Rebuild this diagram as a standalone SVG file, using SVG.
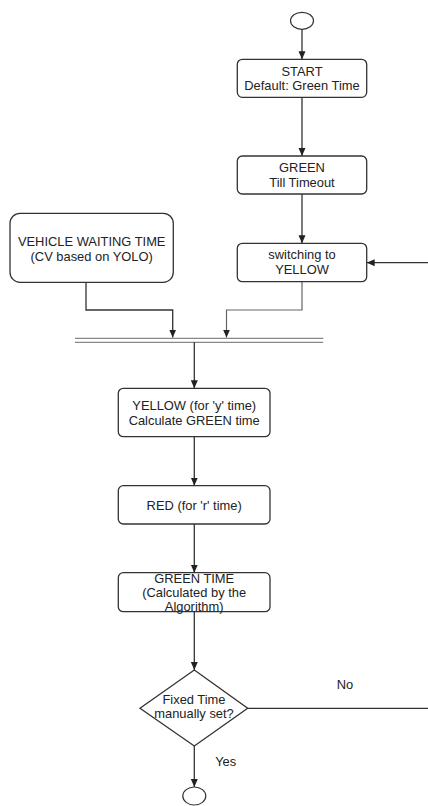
<svg xmlns="http://www.w3.org/2000/svg" width="428" height="806" viewBox="0 0 428 806">
<style>
.box{fill:#fff;stroke:#333;stroke-width:1.3}
.t{font-family:"Liberation Sans",Arial,sans-serif;font-size:12.9px;fill:#222;text-anchor:middle}
.c{fill:none;stroke:#333;stroke-width:1.3}
.cg{fill:none;stroke:#666;stroke-width:1.2}
.bar{fill:none;stroke:#888;stroke-width:1.2}
</style>
<defs>
<marker id="ah" viewBox="0 0 8 8" refX="8" refY="4" markerWidth="8" markerHeight="8" markerUnits="userSpaceOnUse" orient="auto">
<path d="M0,0.5 L8,4 L0,7.5 z" fill="#222"/>
</marker>
</defs>
<rect width="428" height="806" fill="#fff"/>
<g id="connectors">
<line class="c" x1="302" y1="29.3" x2="302" y2="59.3" marker-end="url(#ah)"/>
<line class="c" x1="302" y1="97.3" x2="302" y2="156" marker-end="url(#ah)"/>
<line class="c" x1="302" y1="194" x2="302" y2="243.3" marker-end="url(#ah)"/>
<line class="c" x1="428" y1="262.7" x2="366.7" y2="262.7" marker-end="url(#ah)"/>
<polyline class="c" points="86,282.3 86,310 172.7,310 172.7,337.6" marker-end="url(#ah)"/>
<polyline class="cg" points="302,281.7 302,310 226.5,310 226.5,337.6" marker-end="url(#ah)"/>
<line class="bar" x1="75" y1="338.4" x2="323.3" y2="338.4"/>
<line class="bar" x1="75" y1="342.3" x2="323.3" y2="342.3"/>
<line class="c" x1="194.3" y1="342.3" x2="194.3" y2="388.3" marker-end="url(#ah)"/>
<line class="c" x1="194.3" y1="436.7" x2="194.3" y2="485.7" marker-end="url(#ah)"/>
<line class="c" x1="194.3" y1="524" x2="194.3" y2="572.7" marker-end="url(#ah)"/>
<line class="c" x1="194.3" y1="611.7" x2="194.3" y2="670" marker-end="url(#ah)"/>
<line class="c" x1="247.7" y1="708.3" x2="428" y2="708.3"/>
<line class="c" x1="194.3" y1="746" x2="194.3" y2="787" marker-end="url(#ah)"/>
<text class="t" x="345" y="688.5">No</text>
<text class="t" x="225.7" y="766">Yes</text>
</g>
<g id="start-circle">
<ellipse cx="302" cy="20.8" rx="11.5" ry="8.5" fill="#fff" stroke="#333" stroke-width="1.2"/>
</g>
<g id="start">
<rect class="box" x="237.3" y="59.3" width="129.4" height="38" rx="5"/>
<text class="t" x="302" y="75.5">START</text>
<text class="t" x="302" y="89.5">Default: Green Time</text>
</g>
<g id="green">
<rect class="box" x="237.3" y="156" width="129.4" height="38" rx="5"/>
<text class="t" x="302" y="172">GREEN</text>
<text class="t" x="302" y="186.7">Till Timeout</text>
</g>
<g id="vehicle">
<rect class="box" x="10" y="213.3" width="163.3" height="69" rx="10"/>
<text class="t" x="91.7" y="246">VEHICLE WAITING TIME</text>
<text class="t" x="91.7" y="260.5">(CV based on YOLO)</text>
</g>
<g id="switching">
<rect class="box" x="237.3" y="243.3" width="129.4" height="38.4" rx="5"/>
<text class="t" x="302" y="259.3">switching to</text>
<text class="t" x="302" y="274.3">YELLOW</text>
</g>
<g id="yellow">
<rect class="box" x="118.3" y="388.3" width="151.7" height="48.4" rx="5"/>
<text class="t" x="194.2" y="409.5">YELLOW (for 'y' time)</text>
<text class="t" x="194.2" y="424.5">Calculate GREEN time</text>
</g>
<g id="red">
<rect class="box" x="118.3" y="485.7" width="151.7" height="38.3" rx="5"/>
<text class="t" x="194.2" y="510">RED (for 'r' time)</text>
</g>
<g id="greentime">
<rect class="box" x="118.3" y="572.7" width="151.7" height="39" rx="5"/>
<text class="t" x="194.2" y="582.7">GREEN TIME</text>
<text class="t" x="194.2" y="596.7">(Calculated by the</text>
<text class="t" x="194.2" y="610.5">Algorithm)</text>
</g>
<g id="decision">
<polygon class="box" points="194.3,670 247.7,708.3 194.3,746 140,708.3"/>
<text class="t" x="194" y="703.5">Fixed Time</text>
<text class="t" x="194" y="718.3">manually set?</text>
</g>
<g id="end-circle">
<ellipse cx="194.3" cy="796" rx="11.5" ry="9" fill="#fff" stroke="#333" stroke-width="1.2"/>
</g>
</svg>
